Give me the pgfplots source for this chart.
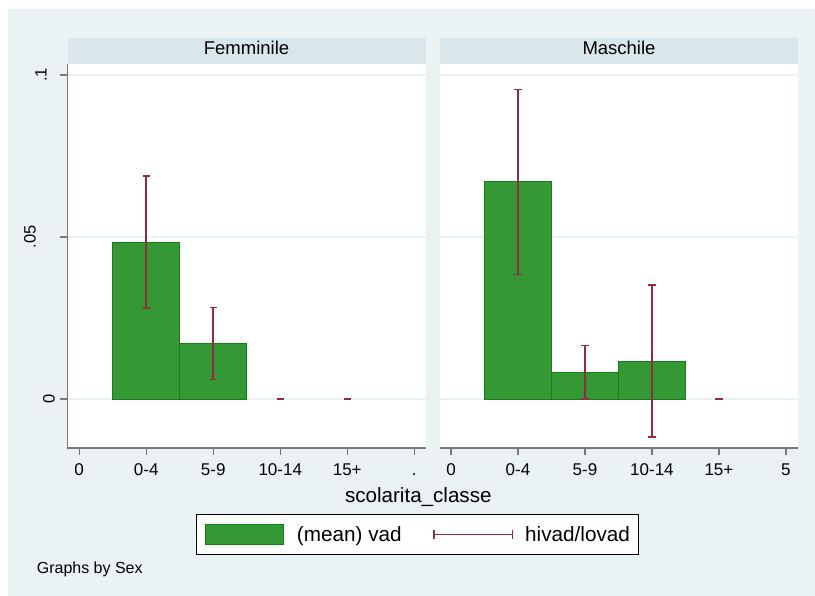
\documentclass[border=0pt]{standalone}
\usepackage{fontspec}
\setmainfont{Liberation Sans}
\usepackage{pgfplots}
\pgfplotsset{compat=1.18}
\definecolor{bgcol}{RGB}{234,242,243}
\definecolor{hdrcol}{RGB}{217,230,235}
\definecolor{gridcol}{RGB}{234,242,243}
\definecolor{barfill}{RGB}{52,153,52}
\definecolor{baredge}{RGB}{20,128,20}
\definecolor{errcol}{RGB}{144,45,62}
\definecolor{axcol}{RGB}{120,120,120}
\pgfplotsset{panel/.style={
  scale only axis, width=358.5pt, height=384pt,
  anchor=south west,
  xmin=-0.175, xmax=5.175, ymin=-0.0151, ymax=0.1034,
  xtick={0,1,2,3,4,5},
  ytick={0,0.05,0.1},
  ymajorgrids, grid style={gridcol, line width=1.4pt},
  axis background/.style={fill=white},
  axis x line*=bottom, axis y line*=left,
  axis line style={axcol, line width=1.3pt, -},
  tick style={axcol, line width=1.3pt},
  tick align=outside, major tick length=7pt,
  xticklabel style={font=\fontsize{17}{20}\selectfont, anchor=base, yshift=-20.7pt},
  yticklabel style={font=\fontsize{16.5}{20}\selectfont, rotate=90, anchor=south, inner xsep=0pt, inner ysep=5.6pt},
},
errplot/.style={draw=errcol, color=errcol, line width=1.5pt, unbounded coords=jump,
  mark=-, mark size=3.6pt, mark options={solid, draw=errcol, line width=1.5pt}},
}
\begin{document}
\begin{tikzpicture}[x=1pt,y=1pt]
\fill[white] (0,0) rectangle (815,596);
\fill[bgcol] (8,0) rectangle (815,587);
\fill[hdrcol] (67.5,532) rectangle (426,558);
\fill[hdrcol] (440,532) rectangle (798,558);
\node[font=\fontsize{18.5}{22}\selectfont, anchor=base] at (246.5,541) {Femminile};
\node[font=\fontsize{18.5}{22}\selectfont, anchor=base] at (619,541) {Maschile};

\begin{axis}[panel, at={(67.5pt,148pt)},
  yticklabels={0,\raisebox{19pt}{.05},\raisebox{8pt}{.1}},
  xticklabels={0,0-4,5-9,10-14,15+,.\vphantom{0}},
  legend columns=2,
  legend style={
    at={(axis description cs:0.3598,-0.1727)}, anchor=north west,
    draw=black, line width=0.8pt, fill=white,
    inner xsep=8.5pt, inner ysep=9pt,
    font=\fontsize{20.7}{24}\selectfont,
    legend cell align=left,
    nodes={inner sep=0pt},
    /tikz/column 1/.style={column sep=13.3pt},
    /tikz/column 2/.style={column sep=31.6pt},
    /tikz/column 3/.style={column sep=12pt},
  },
]
\addplot[ybar, bar width=1, fill=barfill, draw=baredge, line width=0.9pt,
  legend image code/.code={\draw[fill=barfill, draw=baredge, line width=0.8pt] (0pt,-10.3pt) rectangle (77.5pt,10.3pt);}]
  coordinates {(1,0.0484) (2,0.0171)};
\addlegendentry{(mean) vad}
\addplot[errplot,
  legend image code/.code={\draw[errcol, line width=1.5pt] (0pt,0pt) -- (78.4pt,0pt);
    \draw[errcol, line width=1.5pt] (0pt,-4.5pt) -- (0pt,4.5pt);
    \draw[errcol, line width=1.5pt] (78.4pt,-4.5pt) -- (78.4pt,4.5pt);}]
  coordinates {(1,0.0281) (1,0.0688) (nan,nan) (2,0.0060) (2,0.0282) (nan,nan)
               (3,0) (3,0) (nan,nan) (4,0) (4,0)};
\addlegendentry{hivad/lovad}
\end{axis}

\begin{axis}[panel, at={(440pt,148pt)}, width=358pt,
  xmin=-0.164, xmax=5.18,
  yticklabels={},
  y axis line style={draw=none},
  major y tick style={draw=none},
  xticklabels={0,0-4,5-9,10-14,15+,5},
]
\addplot[ybar, bar width=1, fill=barfill, draw=baredge, line width=0.9pt]
  coordinates {(1,0.0670) (2,0.0083) (3,0.0116)};
\addplot[errplot]
  coordinates {(1,0.0385) (1,0.0955) (nan,nan) (2,0) (2,0.0166) (nan,nan)
               (3,-0.0117) (3,0.0352) (nan,nan) (4,0) (4,0)};
\end{axis}

\node[font=\fontsize{20.6}{24}\selectfont, anchor=base] at (418.3,93.3) {scolarita\_classe};
\node[font=\fontsize{16}{19}\selectfont, anchor=base west] at (33.3,22) {Graphs by Sex};
\end{tikzpicture}
\end{document}
